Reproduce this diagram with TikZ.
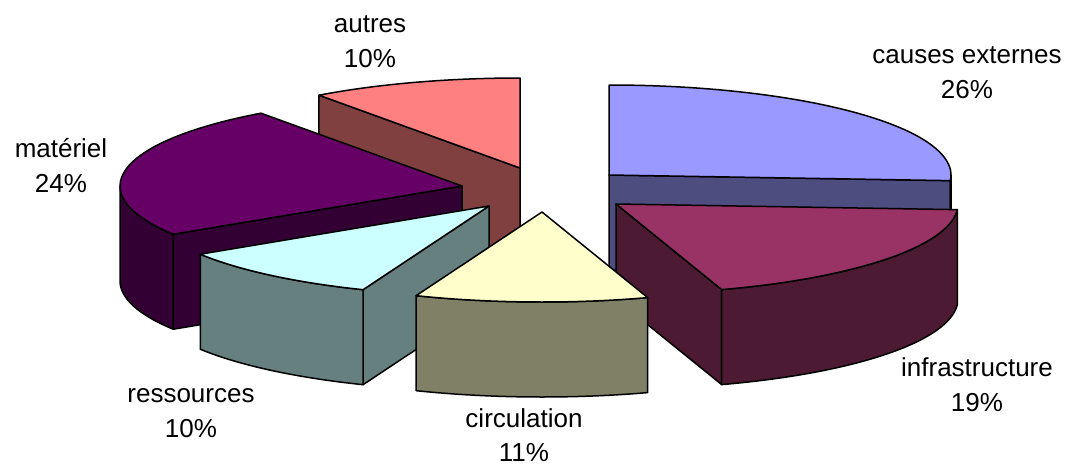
\documentclass[tikz,border=0pt]{standalone}
\usepackage{fontspec}
\setmainfont{Liberation Sans}
\usetikzlibrary{calc}
\definecolor{ceTop}{HTML}{9999FF}\definecolor{ceSide}{HTML}{4D4D80}
\definecolor{infTop}{HTML}{993366}\definecolor{infSide}{HTML}{4D1A33}
\definecolor{circTop}{HTML}{FFFFCC}\definecolor{circSide}{HTML}{808066}
\definecolor{resTop}{HTML}{CCFFFF}\definecolor{resSide}{HTML}{668080}
\definecolor{matTop}{HTML}{660066}\definecolor{matSide}{HTML}{330033}
\definecolor{autTop}{HTML}{FF8080}\definecolor{autSide}{HTML}{804040}
% center, start angle, end angle, colour
\newcommand\pieTop[4]{%
  \filldraw[face,fill=#4] (#1) -- ($(#1)+({342*cos(#3)},{-90*sin(#3)})$)
    arc[start angle={-(#3)}, end angle={-(#2)}, x radius=342, y radius=90] -- cycle;}
% center, angle, colour
\newcommand\pieRadial[3]{%
  \filldraw[face,fill=#3] (#1) -- ($(#1)+({342*cos(#2)},{-90*sin(#2)})$)
    -- ++(0,95) -- ($(#1)+(0,95)$) -- cycle;}
% center, start angle, end angle, colour
\newcommand\pieOuter[4]{%
  \filldraw[face,fill=#4] ($(#1)+({342*cos(#2)},{-90*sin(#2)})$)
    arc[start angle={-(#2)}, end angle={-(#3)}, x radius=342, y radius=90]
    -- ++(0,95)
    arc[start angle={-(#3)}, end angle={-(#2)}, x radius=342, y radius=90] -- cycle;}
\begin{document}
\begin{tikzpicture}[x=1pt,y=-1pt,
  face/.style={draw=black,line width=1.5pt,line join=round},
  lbl/.style={anchor=base,inner sep=0pt,font=\fontsize{26}{30}\selectfont}]
\useasboundingbox[fill=white] (0,0) rectangle (1070,466);
\coordinate (ce) at (609,175);
\coordinate (au) at (520,168);
\coordinate (ma) at (462,186);
\coordinate (in) at (616,204);
\coordinate (re) at (489,206);
\coordinate (ci) at (542,212);
% causes externes
\pieRadial{ce}{-3.6}{ceSide}
\pieOuter{ce}{-3.6}{0}{ceSide}
\pieTop{ce}{-3.6}{90}{ceTop}
% autres
\pieRadial{au}{126}{autSide}
\pieTop{au}{90}{126}{autTop}
% materiel
\pieOuter{ma}{180}{212.4}{matSide}
\pieRadial{ma}{212.4}{matSide}
\pieTop{ma}{126}{212.4}{matTop}
% infrastructure
\pieRadial{in}{-72}{infSide}
\pieOuter{in}{-72}{-3.6}{infSide}
\pieTop{in}{-72}{-3.6}{infTop}
% ressources
\pieRadial{re}{-111.6}{resSide}
\pieOuter{re}{-147.6}{-111.6}{resSide}
\pieTop{re}{-147.6}{-111.6}{resTop}
% circulation
\pieOuter{ci}{-111.6}{-72}{circSide}
\pieTop{ci}{-111.6}{-72}{circTop}
% labels
\node[lbl] (lce1) at (967,63) {causes externes};
\node[lbl] (lce2) at (967,98) {26\%};
\node[lbl] (lau1) at (370,32) {autres};
\node[lbl] (lau2) at (370,67) {10\%};
\node[lbl] (lma1) at (61,157) {matériel};
\node[lbl] (lma2) at (61,192) {24\%};
\node[lbl] (lre1) at (191,402) {ressources};
\node[lbl] (lre2) at (191,437) {10\%};
\node[lbl] (lci1) at (524,427) {circulation};
\node[lbl] (lci2) at (524,461) {11\%};
\node[lbl] (lin1) at (977,376) {infrastructure};
\node[lbl] (lin2) at (977,411) {19\%};
\end{tikzpicture}
\end{document}
